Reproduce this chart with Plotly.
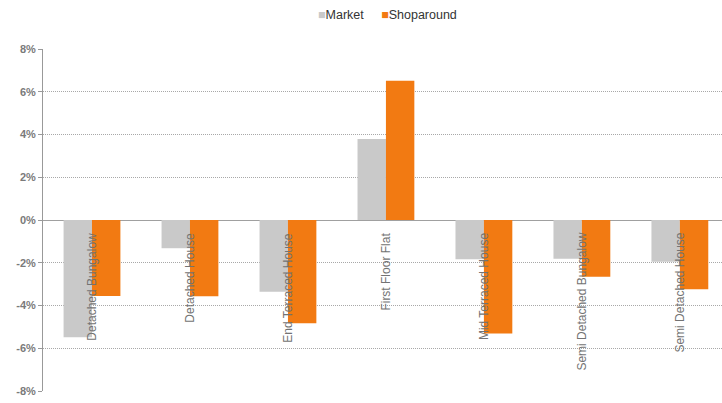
import plotly.graph_objects as go

categories = ["Detached Bungalow", "Detached House", "End Terraced House", "First Floor Flat",
              "Mid Terraced House", "Semi Detached Bungalow", "Semi Detached House"]
market = [-5.48, -1.32, -3.36, 3.79, -1.84, -1.81, -1.95]
shoparound = [-3.55, -3.57, -4.83, 6.51, -5.31, -2.66, -3.24]
ytick_vals = [-8, -6, -4, -2, 0, 2, 4, 6, 8]
ytick_text = ["-8%", "-6%", "-4%", "-2%", "0%", "2%", "4%", "6%", "8%"]

MARKET_COLOR = "#C9C9C9"
SHOP_COLOR = "#F27A12"

x = list(range(len(categories)))

fig = go.Figure()
fig.add_trace(go.Bar(x=x, y=market, name="Market", marker_color=MARKET_COLOR,
                     marker_line_width=0, showlegend=False))
fig.add_trace(go.Bar(x=x, y=shoparound, name="Shoparound", marker_color=SHOP_COLOR,
                     marker_line_width=0, showlegend=False))

for i, c in enumerate(categories):
    fig.add_annotation(x=i, y=-0.5, text=c, textangle=-90, showarrow=False,
                       xanchor="center", yanchor="top",
                       font=dict(family="Liberation Sans, Arial", size=12, color="#737373"))

# legend (compact, square markers adjacent to text)
legend_text = (f"<span style='color:{MARKET_COLOR}'>■</span>Market"
               f"&nbsp;&nbsp;&nbsp;&nbsp;&nbsp;"
               f"<span style='color:{SHOP_COLOR}'>■</span>Shoparound")
fig.add_annotation(xref="paper", yref="paper", x=0.508, y=1.099, xanchor="center",
                   yanchor="middle", showarrow=False, text=legend_text,
                   font=dict(family="Liberation Sans, Arial", size=12.5, color="#333333"))

fig.update_layout(
    width=722, height=403,
    margin=dict(l=43, r=0, t=49, b=12),
    plot_bgcolor="white", paper_bgcolor="white",
    barmode="group", bargap=0.42, bargroupgap=0,
    font=dict(family="Liberation Sans, Arial", color="#404040"),
    showlegend=False,
    xaxis=dict(range=[-0.5, 6.43], showticklabels=False, showgrid=False,
               zeroline=False, showline=False, ticks=""),
    yaxis=dict(range=[-8, 8], tickvals=ytick_vals, ticktext=ytick_text,
               tickfont=dict(family="Liberation Sans, Arial", size=11, color="#7A7A7A",
                             weight="bold"),
               showgrid=True, gridcolor="#A8A8A8", griddash="1px,1px", gridwidth=1,
               zeroline=True, zerolinecolor="#A0A0A0", zerolinewidth=1,
               showline=True, linecolor="#999999", linewidth=1,
               ticks="outside", ticklen=4, tickcolor="#999999"),
)

fig.write_html("out.html")
